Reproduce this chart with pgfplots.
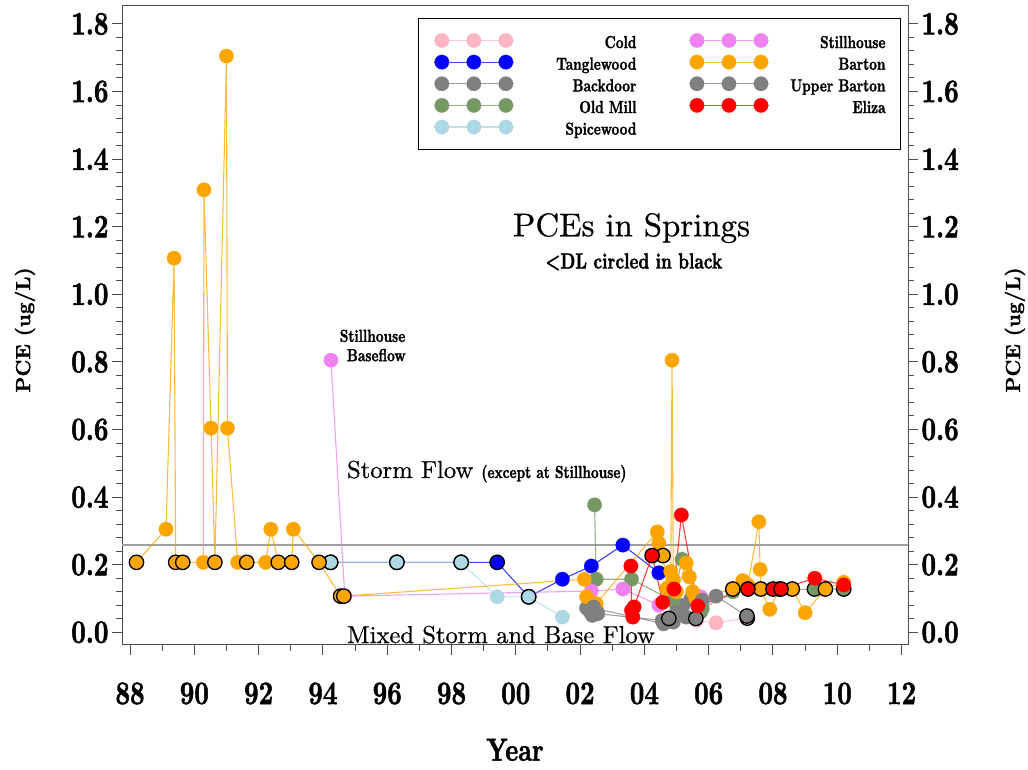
\documentclass[border=0pt]{standalone}
\usepackage{pgfplots}
\pgfplotsset{compat=1.18}
\usepackage{pgfplotstable}
\usepackage{fontspec}
\newfontfamily\bfc{lmroman10-bold.otf}[FakeStretch=0.77, FakeBold=1.5]
\newfontfamily\bfw{lmroman10-bold.otf}[FakeBold=1.2]
\newfontfamily\rmw{lmroman10-regular.otf}[FakeBold=0.6]

\definecolor{cCold}{RGB}{255,182,193}
\definecolor{cTangle}{RGB}{0,0,255}
\definecolor{cBack}{RGB}{128,128,128}
\definecolor{cOld}{RGB}{118,152,100}
\definecolor{cSpice}{RGB}{173,216,230}
\definecolor{cStill}{RGB}{238,130,238}
\definecolor{cBarton}{RGB}{255,165,0}
\definecolor{cUpper}{RGB}{128,128,128}
\definecolor{cEliza}{RGB}{255,0,0}

\tikzset{
  ser/.style={color=#1, draw opacity=0.75, line width=1.1bp, mark=*, mark size=7.2bp,
              mark options={fill=#1, draw=#1, line width=0.2bp, solid, opacity=1}},
  dl/.style={only marks, mark=*, mark size=7.2bp,
              mark options={fill=#1, draw=black, line width=1.3bp, solid}},
}
\newcommand\LE[1]{\makebox[122bp][r]{\rule[-5bp]{0pt}{21.75bp}#1}}
\newcommand\LF[1]{\makebox[116bp][r]{\rule[-5bp]{0pt}{21.75bp}#1}}

% x = year (88 ... 112 = 2012), y = PCE (ug/L), c = 1 if <DL (circled)
\pgfplotstableread{
x y c
105.62 0.035 0
106.23 0.028 0
107.20 0.042 1
}\cold
\pgfplotstableread{
x y c
94.24 0.207 1
96.30 0.207 1
98.30 0.207 1
99.42 0.207 1
100.40 0.105 1
101.45 0.157 0
102.35 0.196 0
103.33 0.258 0
104.45 0.176 0
}\tangle
\pgfplotstableread{
x y c
102.20 0.072 0
102.38 0.050 0
102.50 0.070 0
104.60 0.025 0
104.90 0.030 0
105.20 0.080 0
105.45 0.100 0
105.75 0.060 0
}\back
\pgfplotstableread{
x y c
102.45 0.377 0
102.50 0.157 0
103.60 0.157 0
104.90 0.092 0
105.17 0.216 0
105.80 0.070 0
106.75 0.120 0
109.29 0.128 1
110.20 0.128 1
}\oldmill
\pgfplotstableread{
x y c
94.24 0.207 1
96.30 0.207 1
98.30 0.207 1
99.42 0.105 0
100.40 0.105 1
101.45 0.045 0
}\spice
\pgfplotstableread{
x y c
94.25 0.805 0
94.68 0.107 0
102.35 0.122 0
103.33 0.128 0
104.45 0.080 0
105.75 0.105 0
}\still
\pgfplotstableread{
x y c
88.20 0.207 1
89.12 0.305 0
89.37 1.107 0
89.42 0.207 1
89.64 0.207 1
90.28 0.207 0
90.30 1.309 0
90.52 0.604 0
90.64 0.207 1
91.00 1.705 0
91.03 0.604 0
91.35 0.207 0
91.63 0.207 1
92.22 0.207 0
92.38 0.305 0
92.61 0.207 1
93.03 0.207 1
93.08 0.305 0
93.88 0.207 1
94.55 0.107 1
94.65 0.107 1
102.13 0.157 0
102.20 0.105 0
102.50 0.085 0
104.40 0.297 0
104.45 0.264 0
104.58 0.227 1
104.70 0.130 0
104.82 0.180 0
104.86 0.805 0
104.90 0.155 0
105.00 0.120 0
105.30 0.205 0
105.40 0.164 0
105.50 0.120 0
105.60 0.100 0
106.75 0.128 1
107.06 0.153 0
107.22 0.140 0
107.56 0.327 0
107.60 0.186 0
107.62 0.128 1
107.90 0.068 0
108.20 0.128 1
108.60 0.128 1
109.00 0.058 0
109.63 0.128 1
110.20 0.148 0
}\barton
\pgfplotstableread{
x y c
102.30 0.062 0
102.42 0.075 0
102.55 0.055 0
104.55 0.035 0
104.76 0.041 1
105.00 0.060 0
105.30 0.045 0
105.60 0.041 1
105.80 0.095 0
106.23 0.107 0
107.19 0.048 1
}\upper
\pgfplotstableread{
x y c
103.58 0.196 0
103.60 0.065 0
103.64 0.045 0
103.68 0.075 0
104.24 0.227 1
104.57 0.089 0
104.92 0.128 0
105.15 0.347 0
105.66 0.078 0
107.22 0.128 1
108.00 0.128 1
108.25 0.128 1
109.30 0.160 0
110.20 0.140 0
}\eliza

\begin{document}
\begin{tikzpicture}
\useasboundingbox (0,0) rectangle (1028bp,770bp);
\begin{axis}[
  at={(122bp,125bp)}, anchor=south west, scale only axis,
  width=786bp, height=639bp,
  xmin=87.75, xmax=112.2, ymin=-0.0376, ymax=1.853,
  clip=false,
  axis line style={draw=black!70, line width=1bp},
  every tick/.style={draw=black!70, line width=1bp},
  tick align=outside, major tick length=10bp, minor tick length=6bp,
  xtick={88,90,...,112},
  xticklabels={88,90,92,94,96,98,00,02,04,06,08,10,12},
  minor x tick num=1,
  ytick={0,0.2,0.4,0.6,0.8,1.0,1.2,1.4,1.6,1.8},
  minor y tick num=4,
  xtick pos=left, ytick pos=left,
  /pgf/number format/assume math mode=true,
  yticklabel style={/pgf/number format/.cd, fixed, fixed zerofill, precision=1},
  tick label style={font=\bfc\fontsize{33}{36}\selectfont, text=black},
  xticklabel style={yshift=-24bp},
  xlabel={Year},
  xlabel style={font=\bfc\fontsize{32}{36}\selectfont, at={(axis description cs:0.5,-0.164)}, anchor=center},
  ylabel={PCE (ug/L)},
  ylabel style={font=\bfw\fontsize{20.5}{22}\selectfont, at={(axis description cs:-0.1234,0.493)}, anchor=center},
  legend columns=2,
  legend image code/.code={\draw[#1, mark indices={2,3,4}] plot coordinates {(0bp,0bp) (8bp,0bp) (40bp,0bp) (72bp,0bp) (80bp,0bp)};},
  legend style={at={(0.991,0.981)}, anchor=north east, draw=black, line width=0.8bp,
    fill=white, inner xsep=15bp, inner ysep=12.8bp, column sep=0bp, row sep=3.4bp,
    font=\bfc\fontsize{17.5}{18}\selectfont,
    nodes={inner sep=0pt},
    /tikz/every even column/.append style={column sep=52bp}},
]
\addplot[gray!75, line width=1.2bp, forget plot] coordinates {(87.75,0.258) (112.2,0.258)};

\addplot[ser=cCold, forget plot] table[x=x,y=y] {\cold};
\addplot[dl=cCold, forget plot, restrict expr to domain={\thisrow{c}}{0.5:1.5}] table[x=x,y=y] {\cold};
\addplot[ser=cTangle, forget plot] table[x=x,y=y] {\tangle};
\addplot[dl=cTangle, forget plot, restrict expr to domain={\thisrow{c}}{0.5:1.5}] table[x=x,y=y] {\tangle};
\addplot[ser=cBack, forget plot] table[x=x,y=y] {\back};
\addplot[ser=cOld, forget plot] table[x=x,y=y] {\oldmill};
\addplot[dl=cOld, forget plot, restrict expr to domain={\thisrow{c}}{0.5:1.5}] table[x=x,y=y] {\oldmill};
\addplot[ser=cSpice, forget plot] table[x=x,y=y] {\spice};
\addplot[dl=cSpice, forget plot, restrict expr to domain={\thisrow{c}}{0.5:1.5}] table[x=x,y=y] {\spice};
\addplot[ser=cStill, forget plot] table[x=x,y=y] {\still};
\addplot[ser=cBarton, forget plot] table[x=x,y=y] {\barton};
\addplot[dl=cBarton, forget plot, restrict expr to domain={\thisrow{c}}{0.5:1.5}] table[x=x,y=y] {\barton};
\addplot[ser=cUpper, forget plot] table[x=x,y=y] {\upper};
\addplot[dl=cUpper, forget plot, restrict expr to domain={\thisrow{c}}{0.5:1.5}] table[x=x,y=y] {\upper};
\addplot[ser=cEliza, forget plot] table[x=x,y=y] {\eliza};
\addplot[dl=cEliza, forget plot, restrict expr to domain={\thisrow{c}}{0.5:1.5}] table[x=x,y=y] {\eliza};

\addlegendimage{ser=cCold}\addlegendentry{\LE{Cold}}
\addlegendimage{ser=cStill}\addlegendentry{\LF{Stillhouse}}
\addlegendimage{ser=cTangle}\addlegendentry{\LE{Tanglewood}}
\addlegendimage{ser=cBarton}\addlegendentry{\LF{Barton}}
\addlegendimage{ser=cBack}\addlegendentry{\LE{Backdoor}}
\addlegendimage{ser=cUpper}\addlegendentry{\LF{Upper Barton}}
\addlegendimage{ser=cOld}\addlegendentry{\LE{Old Mill}}
\addlegendimage{ser=cEliza}\addlegendentry{\LF{Eliza}}
\addlegendimage{ser=cSpice}\addlegendentry{\LE{Spicewood}}

\node[font=\rmw\fontsize{33}{36}\selectfont, anchor=center] at (axis cs:103.6,1.196) {PCEs in Springs};
\node[font=\bfc\fontsize{22}{24}\selectfont, anchor=center] at (axis cs:103.67,1.096) {<DL circled in black};
\node[font=\bfc\fontsize{17.5}{18}\selectfont, anchor=west, inner sep=0pt] at (axis cs:94.52,0.877) {Stillhouse};
\node[font=\bfc\fontsize{17.5}{18}\selectfont, anchor=west, inner sep=0pt] at (axis cs:94.74,0.820) {Baseflow};
\node[anchor=base west, inner sep=0pt] at (axis cs:94.745,0.4565) {\rmw\fontsize{24.7}{28}\selectfont Storm Flow \bfc\fontsize{17.5}{18}\selectfont (except at Stillhouse)};
\node[anchor=base west, inner sep=0pt, font=\rmw\fontsize{24.7}{28}\selectfont] at (axis cs:94.745,-0.032) {Mixed Storm and Base Flow};
\end{axis}

\begin{axis}[
  at={(122bp,125bp)}, anchor=south west, scale only axis,
  width=786bp, height=639bp,
  xmin=87.75, xmax=112.2, ymin=-0.0376, ymax=1.853,
  hide x axis, axis y line*=right,
  axis line style={draw=black!70, line width=1bp},
  every tick/.style={draw=black!70, line width=1bp},
  tick align=outside, major tick length=10bp, minor tick length=6bp,
  ytick={0,0.2,0.4,0.6,0.8,1.0,1.2,1.4,1.6,1.8},
  minor y tick num=4,
  /pgf/number format/assume math mode=true,
  yticklabel style={/pgf/number format/.cd, fixed, fixed zerofill, precision=1},
  tick label style={font=\bfc\fontsize{33}{36}\selectfont, text=black},
  ylabel={PCE (ug/L)},
  every axis y label/.style={at={(axis description cs:1.136,0.493)}, rotate=90, anchor=center, font=\bfw\fontsize{20.5}{22}\selectfont},
]
\end{axis}
\end{tikzpicture}
\end{document}
